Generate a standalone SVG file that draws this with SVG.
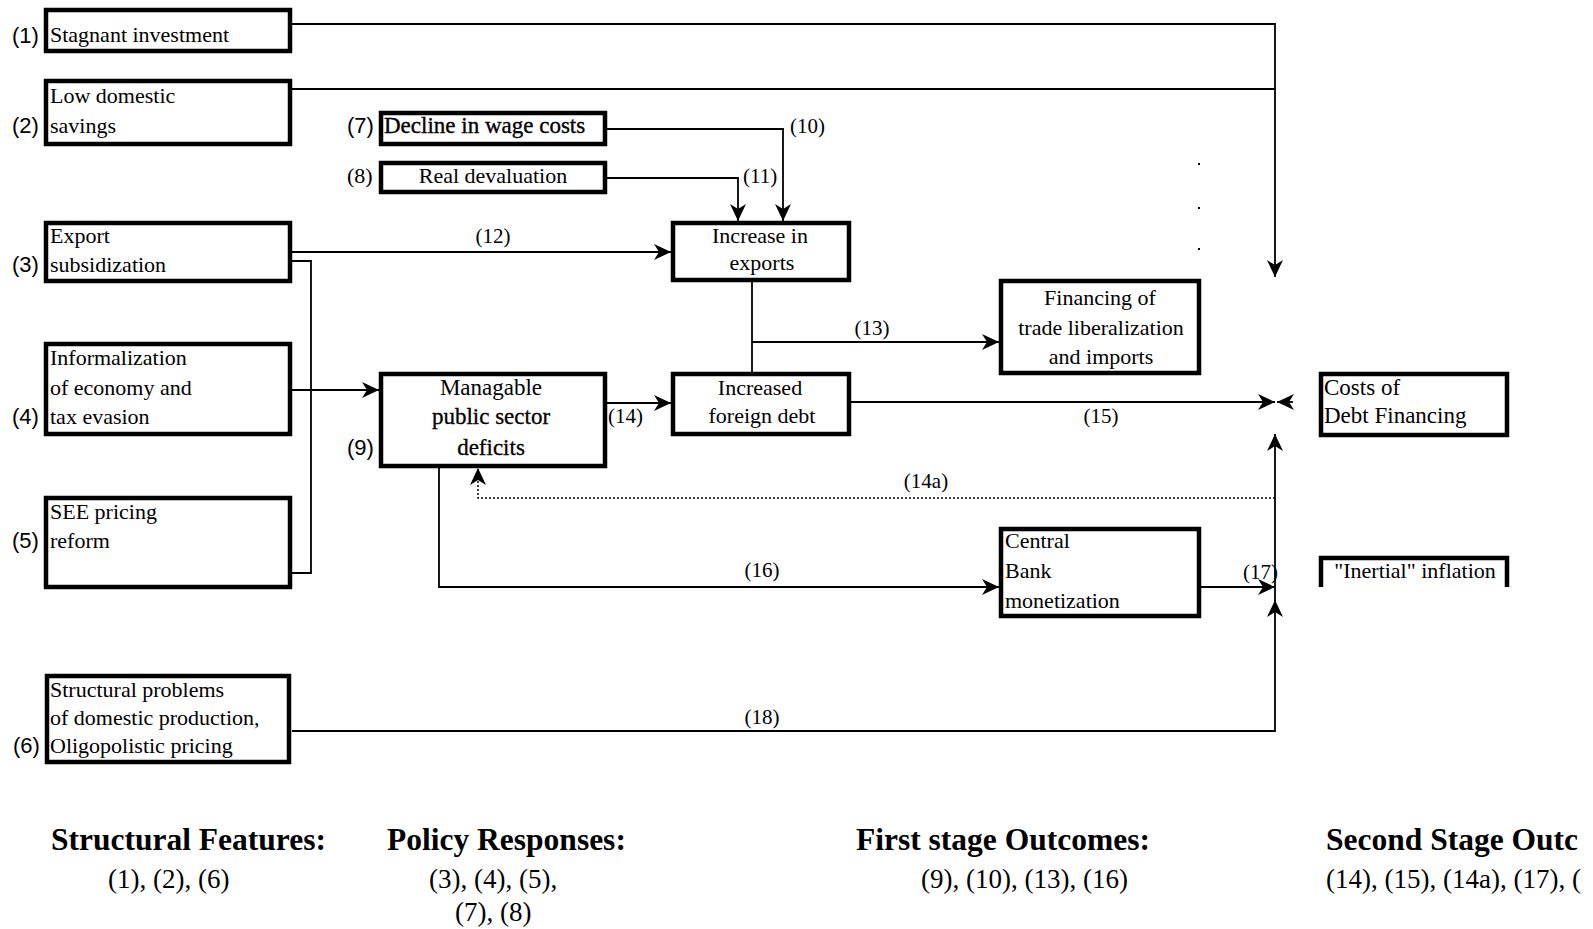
<svg xmlns="http://www.w3.org/2000/svg" width="1593" height="929" viewBox="0 0 1593 929">
<style>
.box{fill:#fff;stroke:#000;stroke-width:4.5}
.t{font-family:"Liberation Serif","Times New Roman",serif;font-size:22px;fill:#000}
.tc{font-family:"Liberation Serif","Times New Roman",serif;font-size:22px;fill:#000;text-anchor:middle}
.n{font-family:"Liberation Sans",Arial,sans-serif;font-size:22px;fill:#000}
.lb{font-family:"Liberation Serif","Times New Roman",serif;font-size:21px;fill:#000}
.lbc{font-family:"Liberation Serif","Times New Roman",serif;font-size:21px;fill:#000;text-anchor:middle}
.c{fill:none;stroke:#000;stroke-width:1.8}
.a{marker-end:url(#ah)}
.dot{fill:none;stroke:#000;stroke-width:1.5;stroke-dasharray:2 2}
.h{font-family:"Liberation Serif","Times New Roman",serif;font-size:31.5px;font-weight:bold;fill:#000}
.s{font-family:"Liberation Serif","Times New Roman",serif;font-size:27px;fill:#000}
</style>
<defs>
<marker id="ah" markerUnits="userSpaceOnUse" markerWidth="20" markerHeight="20" viewBox="-18 -10 20 20" refX="0" refY="0" orient="auto">
<path d="M0,0 L-17,-8 L-12,0 L-17,8 Z" fill="#000"/>
</marker>
</defs>
<rect width="1593" height="929" fill="#fff"/>

<g id="connectors">
<path class="c a" d="M292,24 H1275 V277"/>
<path class="c" d="M292,89 H1275"/>
<path class="c a" d="M607,129 H783 V221"/>
<path class="c a" d="M607,178 H738 V221"/>
<path class="c a" d="M292,252 H671"/>
<path class="c" d="M292,261 H311 V573 H292"/>
<path class="c a" d="M292,390 H379"/>
<path class="c" d="M752,282 V372"/>
<path class="c a" d="M752,342 H999"/>
<path class="c a" d="M607,403 H671"/>
<path class="c a" d="M851,402 H1275"/>
<path class="c a" d="M1293,402 H1277"/>
<path class="dot a" d="M1275,498 H478 V468"/>
<path class="c a" d="M439,468 V587 H999"/>
<path class="c a" d="M1201,587 H1275"/>
<path class="c a" d="M292,731 H1275 V600"/>
<path class="c a" d="M1275,600 V434"/>
<rect x="1198" y="163" width="2" height="2" fill="#000"/>
<rect x="1198" y="207" width="2" height="2" fill="#000"/>
<rect x="1198" y="248" width="2" height="2" fill="#000"/>
<text class="lb" x="790" y="133">(10)</text>
<text class="lb" x="743" y="183">(11)</text>
<text class="lbc" x="493" y="243">(12)</text>
<text class="lbc" x="872" y="335">(13)</text>
<text class="lb" x="608" y="423">(14)</text>
<text class="lbc" x="1101" y="423">(15)</text>
<text class="lbc" x="926" y="488">(14a)</text>
<text class="lbc" x="762" y="577">(16)</text>
<text class="lb" x="1243" y="579">(17)</text>
<text class="lbc" x="762" y="724">(18)</text>
</g>

<g id="n1">
<rect class="box" x="46" y="10" width="244" height="41"/>
<text class="n" x="12" y="43">(1)</text>
<text class="t" x="50" y="42">Stagnant investment</text>
</g>
<g id="n2">
<rect class="box" x="46" y="81" width="244" height="63"/>
<text class="n" x="12" y="133">(2)</text>
<text class="t" x="50" y="103">Low domestic</text>
<text class="t" x="50" y="133">savings</text>
</g>
<g id="n3">
<rect class="box" x="46" y="223" width="244" height="58"/>
<text class="n" x="12" y="272">(3)</text>
<text class="t" x="50" y="243">Export</text>
<text class="t" x="50" y="272">subsidization</text>
</g>
<g id="n4">
<rect class="box" x="46" y="344" width="244" height="90"/>
<text class="n" x="12" y="424">(4)</text>
<text class="t" x="50" y="365">Informalization</text>
<text class="t" x="50" y="395">of economy and</text>
<text class="t" x="50" y="424">tax evasion</text>
</g>
<g id="n5">
<rect class="box" x="46" y="498" width="244" height="89"/>
<text class="n" x="12" y="548">(5)</text>
<text class="t" x="50" y="519">SEE pricing</text>
<text class="t" x="50" y="548">reform</text>
</g>
<g id="n6">
<rect class="box" x="47" y="676" width="242" height="86"/>
<text class="n" x="13" y="753">(6)</text>
<text class="t" x="50" y="697">Structural problems</text>
<text class="t" x="50" y="725">of domestic production,</text>
<text class="t" x="50" y="753">Oligopolistic pricing</text>
</g>
<g id="n7">
<rect class="box" x="381" y="113" width="224" height="31"/>
<text class="n" x="347" y="133">(7)</text>
<text class="t" x="384" y="133" style="font-size:23px;stroke:#000;stroke-width:0.35">Decline in wage costs</text>
</g>
<g id="n8">
<rect class="box" x="381" y="163" width="224" height="29"/>
<text class="lb" x="347" y="183" style="font-size:22px">(8)</text>
<text class="tc" x="493" y="183">Real devaluation</text>
</g>
<g id="n9">
<rect class="box" x="381" y="374" width="224" height="92"/>
<text class="n" x="347" y="455">(9)</text>
<text class="tc" x="491" y="395" style="font-size:23px">Managable</text>
<text class="tc" x="491" y="424" style="font-size:23px;stroke:#000;stroke-width:0.3">public sector</text>
<text class="tc" x="491" y="455" style="font-size:23px;stroke:#000;stroke-width:0.3">deficits</text>
</g>
<g id="n10">
<rect class="box" x="673" y="223" width="176" height="57"/>
<text class="tc" x="760" y="243">Increase in</text>
<text class="tc" x="762" y="270">exports</text>
</g>
<g id="n11">
<rect class="box" x="673" y="374" width="176" height="60"/>
<text class="tc" x="760" y="395">Increased</text>
<text class="tc" x="762" y="423">foreign debt</text>
</g>
<g id="n12">
<rect class="box" x="1001" y="281" width="198" height="92"/>
<text class="tc" x="1100" y="305">Financing of</text>
<text class="tc" x="1101" y="335">trade liberalization</text>
<text class="tc" x="1101" y="364">and imports</text>
</g>
<g id="n13">
<rect class="box" x="1001" y="529" width="198" height="87"/>
<text class="t" x="1005" y="548">Central</text>
<text class="t" x="1005" y="578">Bank</text>
<text class="t" x="1005" y="608">monetization</text>
</g>
<g id="n14">
<rect class="box" x="1321" y="374" width="186" height="61"/>
<text class="t" x="1324" y="395" style="font-size:23px">Costs of</text>
<text class="t" x="1324" y="423" style="font-size:23px">Debt Financing</text>
</g>
<g id="n15">
<path d="M1321,587 V558 H1507 V587" fill="none" stroke="#000" stroke-width="4.5"/>
<text class="tc" x="1415" y="578">"Inertial" inflation</text>
</g>

<g id="legend">
<text class="h" x="51" y="850">Structural Features:</text>
<text class="s" x="108" y="888">(1), (2), (6)</text>
<text class="h" x="387" y="850">Policy Responses:</text>
<text class="s" x="429" y="888">(3), (4), (5),</text>
<text class="s" x="455" y="921">(7), (8)</text>
<text class="h" x="856" y="850">First stage Outcomes:</text>
<text class="s" x="921" y="888">(9), (10), (13), (16)</text>
<text class="h" x="1326" y="850">Second Stage Outc</text>
<text class="s" x="1326" y="888">(14), (15), (14a), (17), (</text>
</g>
</svg>
